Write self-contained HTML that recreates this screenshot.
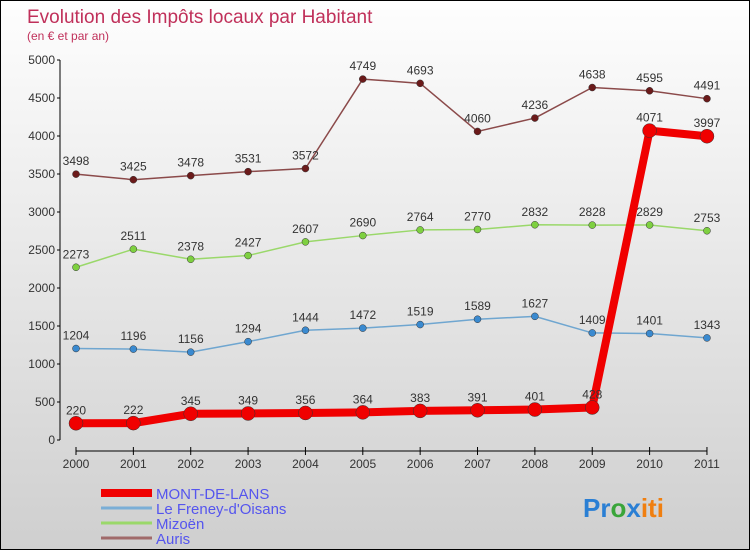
<!DOCTYPE html>
<html><head><meta charset="utf-8"><style>
body{margin:0;width:750px;height:550px;overflow:hidden;font-family:"Liberation Sans",sans-serif}
#wrap{position:relative;width:748px;height:548px;border:1px solid #000;background:linear-gradient(#fefefe,#cfcfcf)}
svg{position:absolute;left:0;top:0}
</style></head><body>
<div id="wrap">
<svg id="chart" width="748" height="548">
<text x="26" y="22" font-size="19" fill="#c0305a">Evolution des Impôts locaux par Habitant</text>
<text x="26" y="39" font-size="12" fill="#c0305a">(en € et par an)</text>
<text x="582" y="516" font-size="26" font-weight="bold"><tspan fill="#2a7fd4">Pr</tspan><tspan fill="#3aa53a">o</tspan><tspan fill="#2a7fd4">x</tspan><tspan fill="#f07f10">iti</tspan></text>
</svg>
</div>
<script>
const years=["2000","2001","2002","2003","2004","2005","2006","2007","2008","2009","2010","2011"];
const yTicks=[0,500,1000,1500,2000,2500,3000,3500,4000,4500,5000];
const montDeLans=[220,222,345,349,356,364,383,391,401,428,4071,3997];
const freney=[1204,1196,1156,1294,1444,1472,1519,1589,1627,1409,1401,1343];
const mizoen=[2273,2511,2378,2427,2607,2690,2764,2770,2832,2828,2829,2753];
const auris=[3498,3425,3478,3531,3572,4749,4693,4060,4236,4638,4595,4491];
const svg=document.getElementById('chart');
const NS="http://www.w3.org/2000/svg";
const xs=i=>75+i*57.36;
const ys=v=>439-v*0.076;
function mk(t,a,p){const e=document.createElementNS(NS,t);for(const k in a)e.setAttribute(k,a[k]);(p||svg).appendChild(e);return e;}
// y axis
let ya=mk('line',{x1:59,y1:ys(5000),x2:59,y2:ys(0),stroke:'#000'});


yTicks.forEach(v=>{
 mk('line',{x1:56,y1:ys(v),x2:59,y2:ys(v),stroke:'#000'});
 const t=mk('text',{x:54,y:ys(v)+4,'font-size':12,'text-anchor':'end',fill:'#333'});t.textContent=v;
 
 
});
let xa=mk('line',{x1:xs(0),y1:450,x2:xs(11),y2:450,stroke:'#000'});


years.forEach((y,i)=>{
 mk('line',{x1:xs(i),y1:446,x2:xs(i),y2:454,stroke:'#000'});
 const t=mk('text',{x:xs(i),y:467,'font-size':12,'text-anchor':'middle',fill:'#333'});t.textContent=y;
 
 
});
function series(data,color,width,r,name,dot){
 const g=mk('g',{});
 
 
 mk('polyline',{points:data.map((v,i)=>xs(i)+','+ys(v)).join(' '),fill:'none',stroke:color,'stroke-width':width,'stroke-linejoin':'round'},g);
 data.forEach((v,i)=>{
  const c=mk('circle',{cx:xs(i),cy:ys(v),r:r,fill:dot,stroke:'#333','stroke-width':0.5},g);
  
  
  const t=mk('text',{x:xs(i),y:ys(v)-9,'font-size':12,'text-anchor':'middle',fill:'#333'},g);t.textContent=v;
  
  
 });
}
series(auris,'#8b4a4a',1.5,3.5,'auris','#6b1a1a');
series(mizoen,'#9ad86a',1.5,3.5,'mizoen','#7ed040');
series(freney,'#6fa6d0',1.5,3.5,'freney','#3a8ad0');
series(montDeLans,'#f00000',8,7,'mont-de-lans','#f00000');
const leg=[['MONT-DE-LANS','#f00000',8],['Le Freney-d\'Oisans','#7aaed6',3],['Mizoën','#9ad86a',3],['Auris','#a06a6a',3]];
leg.forEach((l,i)=>{
 const y=492+i*15;
 const ln=mk('line',{x1:100,y1:y,x2:151,y2:y,stroke:l[1],'stroke-width':l[2]});
 
 
 const t=mk('text',{x:155,y:y+6,'font-size':15,fill:'#5555ee'});t.textContent=l[0];
 
 
});
</script>
</body></html>
